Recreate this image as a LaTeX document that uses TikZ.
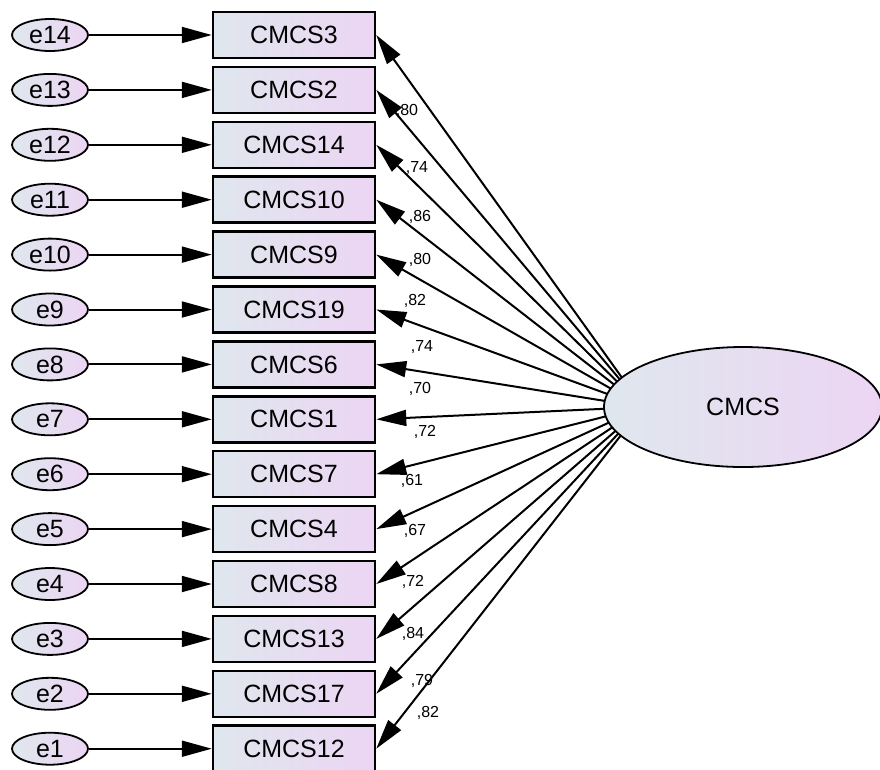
\documentclass[tikz,border=0pt]{standalone}
\usepackage{fontspec}
\setmainfont{Liberation Sans}
\usetikzlibrary{arrows.meta,shapes.geometric}
\definecolor{gl}{RGB}{223,231,238}
\definecolor{gr}{RGB}{236,213,243}
\begin{document}
\begin{tikzpicture}[x=1pt,y=-1pt,
  obs/.style={draw=black, line width=2.5pt, left color=gl, right color=gr,
    minimum width=162pt, minimum height=46pt, inner sep=0pt,
    font=\fontsize{25}{25}\selectfont},
  err/.style={ellipse, draw=black, line width=1.8pt, left color=gl, right color=gr,
    minimum width=76pt, minimum height=32pt, inner sep=0pt,
    font=\fontsize{25}{25}\selectfont},
  lat/.style={ellipse, draw=black, line width=1.8pt, left color=gl, right color=gr,
    minimum width=278pt, minimum height=120pt, inner sep=0pt,
    font=\fontsize{25}{25}\selectfont},
  arr/.style={-{Triangle[length=30pt,width=16pt]}, line width=2pt},
  lbl/.style={font=\fontsize{16}{16}\selectfont, inner sep=0pt}
]
\useasboundingbox (0,0) rectangle (880,769);
\coordinate (hub) at (643,407);
\foreach \i/\bn/\en in {1/CMCS3/e14, 2/CMCS2/e13, 3/CMCS14/e12, 4/CMCS10/e11,
  5/CMCS9/e10, 6/CMCS19/e9, 7/CMCS6/e8, 8/CMCS1/e7, 9/CMCS7/e6, 10/CMCS4/e5,
  11/CMCS8/e4, 12/CMCS13/e3, 13/CMCS17/e2, 14/CMCS12/e1}{
  \pgfmathsetmacro{\yy}{35+(\i-1)*54.9}
  \node[obs] (b\i) at (294,\yy) {\bn};
  \node[err] (u\i) at (50,\yy) {\en};
  \draw[arr] (u\i) -- (b\i);
  \draw[arr] (hub) -- (b\i.east);
}
\node[lat] (cmcs) at (743,407) {CMCS};
\foreach \x/\y/\t in {407/111/{,80}, 417/168/{,74}, 420/217/{,86}, 420/260/{,80},
  415/301/{,82}, 422/347/{,74}, 420/389/{,70}, 425/432/{,72}, 412/481/{,61},
  415/531/{,67}, 413/582/{,72}, 413/634/{,84}, 422/681/{,79}, 428/713/{,82}}{
  \node[lbl] at (\x,\y) {\t};
}
\end{tikzpicture}
\end{document}
